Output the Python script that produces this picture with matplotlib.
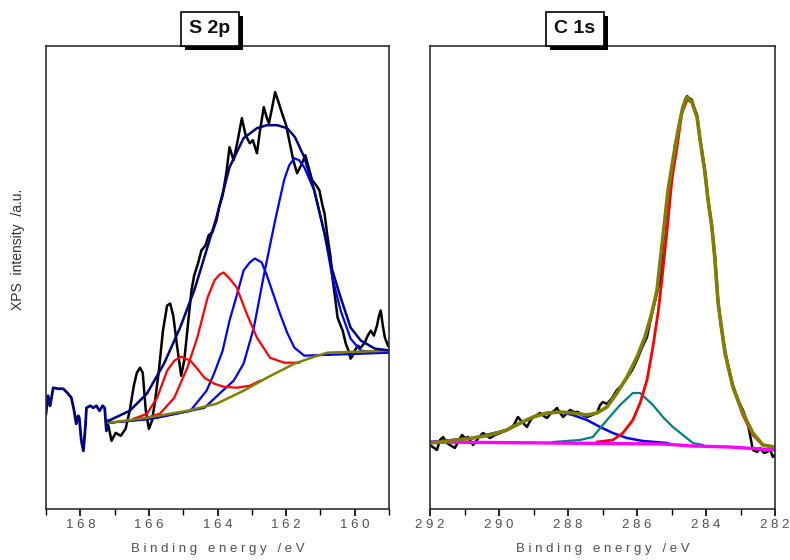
import numpy as np
import matplotlib
matplotlib.use("Agg")
import matplotlib.pyplot as plt
from matplotlib.ticker import MultipleLocator, FuncFormatter
import matplotlib.patheffects as pe

plt.rcParams["font.family"] = ["Liberation Sans", "DejaVu Sans"]

# ---------------- S 2p panel ----------------
s_raw_pre_e = [169.0, 168.94, 168.88, 168.79, 168.65, 168.50, 168.38, 168.26, 168.18, 168.12,
               168.06, 168.03, 167.97, 167.91, 167.85, 167.82, 167.71, 167.62, 167.53, 167.44,
               167.35, 167.29, 167.24, 167.18]
s_raw_pre_i = [95, 113, 103, 121, 120, 120, 116, 111, 98, 85,
               93, 91, 68, 58, 83, 101, 103, 101, 103, 98,
               103, 101, 78, 88]

s_raw_e = [167.18, 167.09, 166.97, 166.82, 166.68, 166.56, 166.44, 166.35, 166.26, 166.18,
           166.09, 166.00, 165.91, 165.82, 165.71, 165.59, 165.47, 165.38, 165.29, 165.18,
           165.06, 164.97, 164.85, 164.76, 164.68, 164.56, 164.47, 164.35, 164.26, 164.15,
           164.03, 163.94, 163.85, 163.74, 163.65, 163.53, 163.41, 163.29, 163.18, 163.06,
           162.97, 162.85, 162.76, 162.65, 162.56, 162.50, 162.41, 162.32, 162.24, 162.12,
           162.00, 161.91, 161.79, 161.68, 161.56, 161.44, 161.32, 161.24, 161.12, 161.03,
           160.94, 160.88, 160.79, 160.71, 160.65, 160.56, 160.50, 160.41, 160.35, 160.26,
           160.18, 160.12, 160.06, 160.00, 159.91, 159.82, 159.71, 159.62, 159.53, 159.44,
           159.35, 159.29, 159.24, 159.18, 159.12, 159.03, 158.97, 158.94]
s_raw_i = [83, 68, 76, 73, 80, 98, 123, 136, 141, 136,
           98, 80, 88, 108, 138, 178, 203, 205, 193, 163,
           133, 148, 188, 218, 233, 246, 258, 263, 273, 276,
           288, 303, 313, 336, 361, 348, 368, 390, 373, 365,
           368, 355, 378, 401, 390, 385, 400, 416, 408, 395,
           383, 368, 348, 335, 343, 353, 338, 328, 323, 318,
           303, 295, 271, 253, 231, 208, 191, 183, 178, 165,
           158, 150, 153, 158, 163, 161, 166, 173, 178, 173,
           183, 193, 198, 183, 171, 163, 161, 131]

s_env_e = [167.18, 166.56, 166.06, 165.56, 165.09, 164.68, 164.50, 164.03, 163.65, 163.24,
           162.85, 162.56, 162.26, 161.97, 161.74, 161.47, 161.18, 160.88, 160.65, 160.41,
           160.12, 159.82, 159.41, 158.94]
s_env_i = [88, 98, 115, 145, 181, 218, 238, 291, 341, 370,
           380, 383, 383, 380, 371, 351, 318, 275, 238, 211,
           181, 168, 160, 158]

s_bg_e = [167.18, 166.06, 164.88, 164.03, 163.24, 162.56, 161.76, 161.09, 160.79, 158.94]
s_bg_i = [86, 91, 98, 105, 118, 131, 145, 153, 156, 158]

s_b1_e = [167.18, 165.94, 165.35, 164.79, 164.32, 164.09, 163.85, 163.65, 163.44, 163.24,
          163.06, 162.91, 162.71, 162.56, 162.38, 162.18, 161.97, 161.76, 161.47, 158.94]
s_b1_i = [86, 90, 94, 98, 118, 136, 158, 188, 213, 238,
          246, 250, 246, 233, 215, 195, 176, 161, 153, 156]

s_b2_e = [167.18, 165.94, 164.38, 163.85, 163.53, 163.24, 162.94, 162.65, 162.32, 162.06,
          161.91, 161.76, 161.62, 161.47, 161.18, 160.88, 160.65, 160.41, 160.12, 159.82,
          159.32, 158.94]
s_b2_i = [86, 90, 101, 118, 128, 145, 181, 233, 288, 328,
          343, 350, 348, 341, 318, 275, 231, 198, 170, 158,
          156, 156]

s_r1_e = [166.44, 166.06, 165.68, 165.26, 164.88, 164.59, 164.29, 164.09, 163.94, 163.82,
          163.65, 163.44, 163.15, 162.85, 162.47, 162.06, 161.62]
s_r1_i = [90, 91, 95, 111, 141, 171, 211, 228, 234, 236,
          230, 221, 195, 171, 151, 146, 146]

s_r2_e = [166.44, 166.06, 165.76, 165.47, 165.26, 165.06, 164.79, 164.59, 164.38, 164.09,
          163.82, 163.44, 163.06, 162.76]
s_r2_i = [90, 95, 111, 138, 148, 152, 148, 140, 131, 125,
          122, 121, 123, 128]

# ---------------- C 1s panel ----------------
c_raw_e = [292.00, 291.88, 291.80, 291.71, 291.62, 291.51, 291.42, 291.28, 291.16, 291.07,
           290.99, 290.90, 290.81, 290.75, 290.64, 290.55, 290.46, 290.35, 290.26, 290.12,
           289.97, 289.83, 289.68, 289.57, 289.45, 289.33, 289.19, 289.10, 289.01, 288.90,
           288.81, 288.70, 288.61, 288.49, 288.41, 288.32, 288.23, 288.14, 288.03, 287.94,
           287.83, 287.71, 287.59, 287.45, 287.30, 287.16, 287.07, 286.99, 286.87, 286.72,
           286.58, 286.43, 286.29, 286.14, 286.00, 285.86, 285.71, 285.62, 285.54, 285.42,
           285.33, 285.25, 285.19, 285.10, 285.04, 284.96, 284.90, 284.81, 284.75, 284.67,
           284.61, 284.55, 284.49, 284.41, 284.35, 284.26, 284.17, 284.12, 284.03, 283.94,
           283.88, 283.83, 283.74, 283.65, 283.57, 283.45, 283.33, 283.22, 283.07, 282.93,
           282.78, 282.64, 282.52, 282.43, 282.32, 282.23, 282.14, 282.06, 282.00]
c_raw_i = [64, 61, 59, 69, 72, 66, 64, 61, 69, 74,
           71, 72, 67, 64, 69, 73, 76, 73, 71, 74,
           76, 78, 81, 84, 92, 87, 82, 88, 92, 94,
           96, 93, 91, 96, 98, 101, 96, 92, 96, 99,
           97, 97, 94, 92, 94, 96, 104, 107, 105, 111,
           119, 124, 131, 139, 149, 161, 172, 187, 199, 216,
           229, 264, 284, 314, 329, 344, 364, 376, 389, 401,
           409, 413, 411, 409, 402, 394, 369, 359, 339, 309,
           294, 284, 254, 209, 184, 159, 139, 124, 109, 99,
           84, 59, 57, 61, 56, 57, 59, 52, 54]

c_env_e = [292.00, 291.71, 291.22, 290.75, 290.26, 289.77, 289.39, 289.01, 288.61, 288.23,
           287.86, 287.45, 287.16, 286.87, 286.58, 286.29, 286.00, 285.77, 285.57, 285.42,
           285.25, 285.10, 284.96, 284.81, 284.67, 284.55, 284.41, 284.26, 284.17, 284.03,
           283.94, 283.83, 283.74, 283.65, 283.45, 283.22, 282.93, 282.64, 282.35, 282.00]
c_env_i = [66, 67, 69, 71, 74, 79, 86, 92, 96, 97,
           96, 94, 96, 102, 116, 132, 152, 172, 196, 219,
           272, 319, 349, 379, 402, 412, 407, 392, 369, 336,
           309, 282, 249, 206, 156, 122, 96, 76, 64, 62]

c_bg_e = [292.00, 288.43, 285.25, 284.38, 283.30, 282.00]
c_bg_i = [67, 66, 65, 63, 62, 59]

c_blue_e = [292.00, 290.75, 289.77, 289.01, 288.61, 288.23, 287.86, 287.45, 287.07, 286.70,
            286.29, 285.83, 285.13, 285.04]
c_blue_i = [67, 71, 79, 92, 96, 97, 94, 89, 82, 76,
            71, 68, 66, 65]

c_teal_e = [288.43, 287.65, 287.28, 286.87, 286.49, 286.12, 285.91, 285.54, 285.25, 284.96,
            284.67, 284.38, 284.09]
c_teal_i = [67, 69, 72, 89, 104, 116, 116, 104, 92, 82,
            74, 66, 64]

c_red_e = [287.16, 286.70, 286.41, 286.12, 285.91, 285.71, 285.54, 285.39, 285.28, 285.13,
           284.99, 284.84, 284.70, 284.55, 284.41, 284.26, 284.17, 284.03, 283.94, 283.83,
           283.74, 283.65, 283.45, 283.22, 282.93, 282.64, 282.35, 282.00]
c_red_i = [67, 69, 76, 89, 106, 129, 162, 196, 229, 279,
           329, 362, 396, 409, 407, 392, 369, 336, 309, 282,
           249, 206, 156, 122, 94, 74, 64, 61]

NAVY = "#000080"
BLUE = "#0000FF"
RED = "#FF0000"
OLIVE = "#808000"
MAGENTA = "#FF00FF"
TEAL = "#008080"
GRAY = "#505050"


def spaced(v, pos):
    return " ".join(f"{v:.0f}")


def style_axes(ax, xlim, ylim):
    ax.set_xlim(*xlim)
    ax.set_ylim(*ylim)
    ax.xaxis.set_major_locator(MultipleLocator(2))
    ax.xaxis.set_minor_locator(MultipleLocator(1))
    ax.xaxis.set_major_formatter(FuncFormatter(spaced))
    ax.set_yticks([])
    ax.tick_params(axis="x", which="major", length=5, width=1.2, direction="out",
                   labelsize=9.5, labelcolor=GRAY, pad=2.5)
    ax.tick_params(axis="x", which="minor", length=4, width=1.0, direction="out")
    for sp in ax.spines.values():
        sp.set_color("#303030")
        sp.set_linewidth(1.2)
    ax.set_xlabel("B i n d i n g   e n e r g y   / e V", fontsize=9.5, color=GRAY,
                  labelpad=8)


def title_box(ax, text, xfrac):
    t = ax.text(xfrac, 1.037, text, transform=ax.transAxes, ha="center", va="center",
                fontsize=14, fontweight="bold", color="#101010",
                bbox=dict(boxstyle="square,pad=0.45", fc="white", ec="black", lw=1.2))
    t.get_bbox_patch().set_path_effects(
        [pe.SimplePatchShadow(offset=(3, -3), shadow_rgbFace="black", alpha=1.0),
         pe.Normal()])
    return t


fig = plt.figure(figsize=(7.9, 5.6), dpi=100)
ax1 = fig.add_axes([46 / 790, 51 / 560, 343 / 790, 463 / 560])
ax2 = fig.add_axes([430 / 790, 51 / 560, 345 / 790, 463 / 560])

# S 2p
ax1.plot(s_raw_pre_e, s_raw_pre_i, color=NAVY, lw=2.0)
ax1.plot(s_raw_e, s_raw_i, color="black", lw=1.8)
ax1.plot(s_b1_e, s_b1_i, color=BLUE, lw=1.6)
ax1.plot(s_b2_e, s_b2_i, color=BLUE, lw=1.6)
ax1.plot(s_r1_e, s_r1_i, color=RED, lw=1.6)
ax1.plot(s_r2_e, s_r2_i, color=RED, lw=1.6)
ax1.plot(s_bg_e, s_bg_i, color=OLIVE, lw=1.8)
ax1.plot(s_env_e, s_env_i, color=NAVY, lw=1.8)
style_axes(ax1, (169, 159), (0, 462))
ax1.set_ylabel("XPS  intensity  /a.u.", fontsize=10, color="#303030")
ax1.yaxis.set_label_coords(-0.06, 0.56)
title_box(ax1, "S 2p", 0.478)

# C 1s
ax2.plot(c_raw_e, c_raw_i, color="black", lw=1.8)
ax2.plot(c_blue_e, c_blue_i, color=BLUE, lw=1.8)
ax2.plot(c_teal_e, c_teal_i, color=TEAL, lw=1.6)
ax2.plot(c_red_e, c_red_i, color=RED, lw=2.0)
ax2.plot(c_bg_e, c_bg_i, color=MAGENTA, lw=2.4)
ax2.plot(c_env_e, c_env_i, color=OLIVE, lw=2.6)
style_axes(ax2, (292, 282), (0, 463))
title_box(ax2, "C 1s", 0.42)

fig.savefig("out.png", dpi=100)
